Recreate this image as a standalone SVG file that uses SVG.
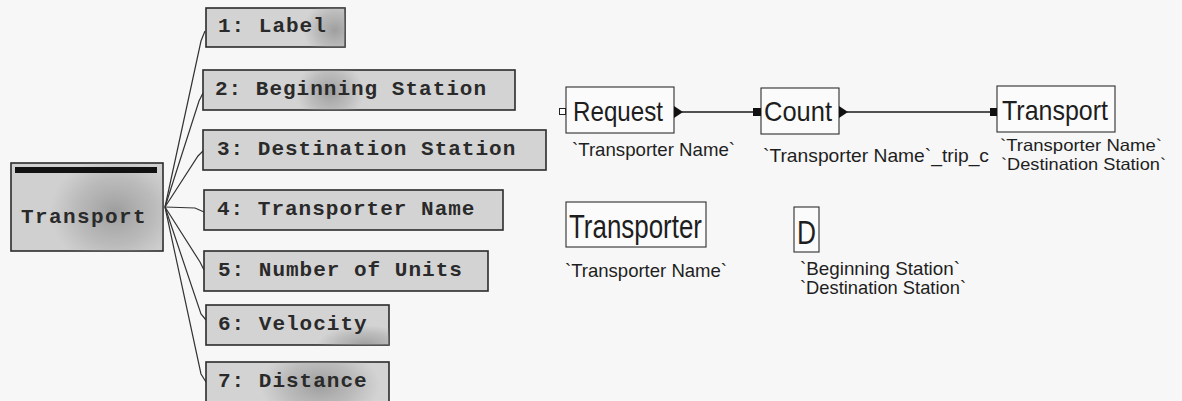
<svg xmlns="http://www.w3.org/2000/svg" width="1182" height="401" viewBox="0 0 1182 401">
  <defs>
    <style>
      .field rect.body { fill: #d3d3d3; stroke: #2b2b2b; stroke-width: 1.6; }
      .field text, .entity text.title { font-family: "Liberation Mono", "Courier New", monospace; font-weight: bold; font-size: 21px; letter-spacing: 1px; fill: #2a2a2a; }
      .wire { fill: none; stroke: #333; stroke-width: 1.2; }
      .op rect.body { fill: #fbfbfb; stroke: #2e2e2e; stroke-width: 1.1; }
      .op text.name { font-family: "Liberation Sans Narrow", "Liberation Sans", Arial, sans-serif; fill: #1e1e1e; }
      .op text.attr { font-family: "Liberation Sans Narrow", "Liberation Sans", Arial, sans-serif; font-size: 18.5px; fill: #1e1e1e; }
      .op text.attr.tight { font-size: 16.5px; }
      .flow { fill: none; stroke: #1a1a1a; stroke-width: 1.6; }
      .port { fill: #111; }
      .port-open { fill: #fff; stroke: #222; stroke-width: 1; }
    </style>
    <radialGradient id="smudge" cx="0.5" cy="0.5" r="0.5">
      <stop offset="0" stop-color="#8c8c8c" stop-opacity="0.75"/>
      <stop offset="0.6" stop-color="#9a9a9a" stop-opacity="0.4"/>
      <stop offset="1" stop-color="#a0a0a0" stop-opacity="0"/>
    </radialGradient>
    <clipPath id="c1"><rect x="206" y="8" width="139" height="39"/></clipPath>
    <clipPath id="c2"><rect x="203" y="70" width="312" height="40"/></clipPath>
    <clipPath id="c6"><rect x="206" y="305" width="183" height="40"/></clipPath>
    <clipPath id="c7"><rect x="206" y="362" width="183" height="40"/></clipPath>
    <clipPath id="cT"><rect x="11" y="163" width="152" height="88"/></clipPath>
  </defs>

  <rect width="1182" height="401" fill="#f7f7f7"/>

  <!-- connectors -->
  <g id="connectors">
    <path class="wire" d="M165,207 L201,41 L205,31"/>
    <path class="wire" d="M165,207 L199,101 L203,93"/>
    <path class="wire" d="M165,207 L198,156 L204,150"/>
    <path class="wire" d="M165,207 L195,208 L204,212"/>
    <path class="wire" d="M165,207 L200,262 L204,270"/>
    <path class="wire" d="M165,207 L201,314 L206,320"/>
    <path class="wire" d="M165,207 L201,374 L206,382"/>

    <path class="flow" d="M682,112 H753"/>
    <path class="flow" d="M847,112 H990"/>
  </g>

  <!-- record entity -->
  <g id="entity-transport" class="entity">
    <rect x="11" y="163" width="152" height="88" fill="#d0d0d0" stroke="#2b2b2b" stroke-width="1.6"/>
    <ellipse cx="115" cy="212" rx="65" ry="55" fill="url(#smudge)" clip-path="url(#cT)"/>
    <rect x="15" y="167" width="142" height="6" fill="#111"/>
    <text class="title" x="21" y="223" style="letter-spacing:1.4px">Transport</text>
  </g>

  <!-- fields -->
  <g id="field-1" class="field">
    <rect class="body" x="206" y="8" width="139" height="39"/>
    <ellipse cx="335" cy="30" rx="32" ry="30" fill="url(#smudge)" clip-path="url(#c1)"/>
    <text x="218" y="32">1: Label</text>
  </g>
  <g id="field-2" class="field">
    <rect class="body" x="203" y="70" width="312" height="40"/>
    <ellipse cx="330" cy="92" rx="34" ry="32" fill="url(#smudge)" clip-path="url(#c2)"/>
    <text x="215" y="95">2: Beginning Station</text>
  </g>
  <g id="field-3" class="field">
    <rect class="body" x="203" y="130" width="343" height="40"/>
    <text x="217" y="155">3: Destination Station</text>
  </g>
  <g id="field-4" class="field">
    <rect class="body" x="204" y="190" width="299" height="40"/>
    <text x="217" y="215">4: Transporter Name</text>
  </g>
  <g id="field-5" class="field">
    <rect class="body" x="204" y="251" width="284" height="40"/>
    <text x="218" y="276">5: Number of Units</text>
  </g>
  <g id="field-6" class="field">
    <rect class="body" x="206" y="305" width="183" height="40"/>
    <ellipse cx="365" cy="345" rx="48" ry="20" fill="url(#smudge)" clip-path="url(#c6)"/>
    <text x="218" y="330">6: Velocity</text>
  </g>
  <g id="field-7" class="field">
    <rect class="body" x="206" y="362" width="183" height="40"/>
    <ellipse cx="320" cy="385" rx="60" ry="38" fill="url(#smudge)" clip-path="url(#c7)"/>
    <text x="218" y="387">7: Distance</text>
  </g>

  <!-- operators -->
  <g id="op-request" class="op">
    <rect class="body" x="566" y="87" width="108" height="46"/>
    <rect class="port-open" x="559.5" y="108.5" width="6" height="6"/>
    <path class="port" d="M674,106 L683,112 L674,118 Z"/>
    <text class="name" x="573" y="121" font-size="28" textLength="90" lengthAdjust="spacingAndGlyphs">Request</text>
    <text class="attr" x="572" y="156" textLength="163" lengthAdjust="spacingAndGlyphs">`Transporter Name`</text>
  </g>

  <g id="op-count" class="op">
    <rect class="body" x="761" y="88" width="78" height="46"/>
    <rect class="port" x="753" y="108" width="8" height="8"/>
    <path class="port" d="M839,106 L848,112 L839,118 Z"/>
    <text class="name" x="764" y="121" font-size="28" textLength="68" lengthAdjust="spacingAndGlyphs">Count</text>
    <text class="attr" x="763" y="162" textLength="226" lengthAdjust="spacingAndGlyphs">`Transporter Name`_trip_c</text>
  </g>

  <g id="op-transport" class="op">
    <rect class="body" x="997" y="86" width="118" height="46"/>
    <rect class="port" x="990" y="108" width="7" height="8"/>
    <text class="name" x="1002" y="120" font-size="28" textLength="106" lengthAdjust="spacingAndGlyphs">Transport</text>
    <text class="attr tight" x="1000" y="151" textLength="162" lengthAdjust="spacingAndGlyphs">`Transporter Name`</text>
    <text class="attr tight" x="1001" y="170" textLength="165" lengthAdjust="spacingAndGlyphs">`Destination Station`</text>
  </g>

  <g id="op-transporter" class="op">
    <rect class="body" x="566" y="202" width="140" height="45"/>
    <text class="name" x="569" y="238" font-size="33" textLength="133" lengthAdjust="spacingAndGlyphs">Transporter</text>
    <text class="attr" x="565" y="277" textLength="162" lengthAdjust="spacingAndGlyphs">`Transporter Name`</text>
  </g>

  <g id="op-d" class="op">
    <rect class="body" x="794" y="207" width="25" height="45"/>
    <text class="name" x="797" y="244" font-size="34" textLength="19" lengthAdjust="spacingAndGlyphs">D</text>
    <text class="attr" x="800" y="275" textLength="160" lengthAdjust="spacingAndGlyphs">`Beginning Station`</text>
    <text class="attr" x="800" y="294" textLength="166" lengthAdjust="spacingAndGlyphs">`Destination Station`</text>
  </g>
</svg>
